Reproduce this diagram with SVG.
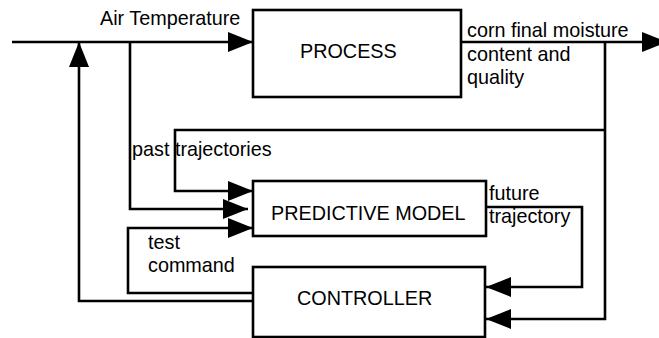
<svg xmlns="http://www.w3.org/2000/svg" width="659" height="338" viewBox="0 0 659 338">
<style>
.box{fill:#fff;stroke:#000;stroke-width:2.6}
.ln{fill:none;stroke:#000;stroke-width:2.6;stroke-linejoin:miter}
.arr{marker-end:url(#ah)}
text{font-family:"Liberation Sans",Arial,Helvetica,sans-serif;font-size:19.8px;fill:#000}
</style>
<defs>
<marker id="ah" markerUnits="userSpaceOnUse" markerWidth="26" markerHeight="21" refX="25" refY="10" orient="auto" overflow="visible">
<path d="M0,0 L25,10 L0,20 Z" fill="#000"/>
</marker>
</defs>
<rect width="659" height="338" fill="#fff"/>
<g id="connectors">
<path class="ln arr" d="M12,42 H253"/>
<path class="ln arr" d="M461,42 H667"/>
<path class="ln arr" d="M605,42 V319 H486"/>
<path class="ln arr" d="M605,130 H175 V191 H253"/>
<path class="ln arr" d="M130,42 V209 H248"/>
<path class="ln arr" d="M486,207 H582 V287 H486"/>
<path class="ln arr" d="M253,293 H128 V228 H253"/>
<path class="ln arr" d="M253,301 H79 V42"/>
</g>
<g id="labels">
<text x="100" y="25">Air Temperature</text>
<text x="467" y="37">corn final moisture</text>
<text x="467" y="61">content and</text>
<text x="467" y="84">quality</text>
<text x="132" y="156">past trajectories</text>
<text x="489" y="200">future</text>
<text x="489" y="223">trajectory</text>
<text x="148" y="249">test</text>
<text x="148" y="272">command</text>
</g>
<g id="process">
<rect class="box" x="253" y="10" width="208" height="87"/>
<text x="300" y="58">PROCESS</text>
</g>
<g id="predictive-model">
<rect class="box" x="253" y="181" width="233" height="55"/>
<text x="271" y="220">PREDICTIVE MODEL</text>
</g>
<g id="controller">
<rect class="box" x="253" y="267" width="232" height="70"/>
<text x="297" y="305">CONTROLLER</text>
</g>
</svg>
